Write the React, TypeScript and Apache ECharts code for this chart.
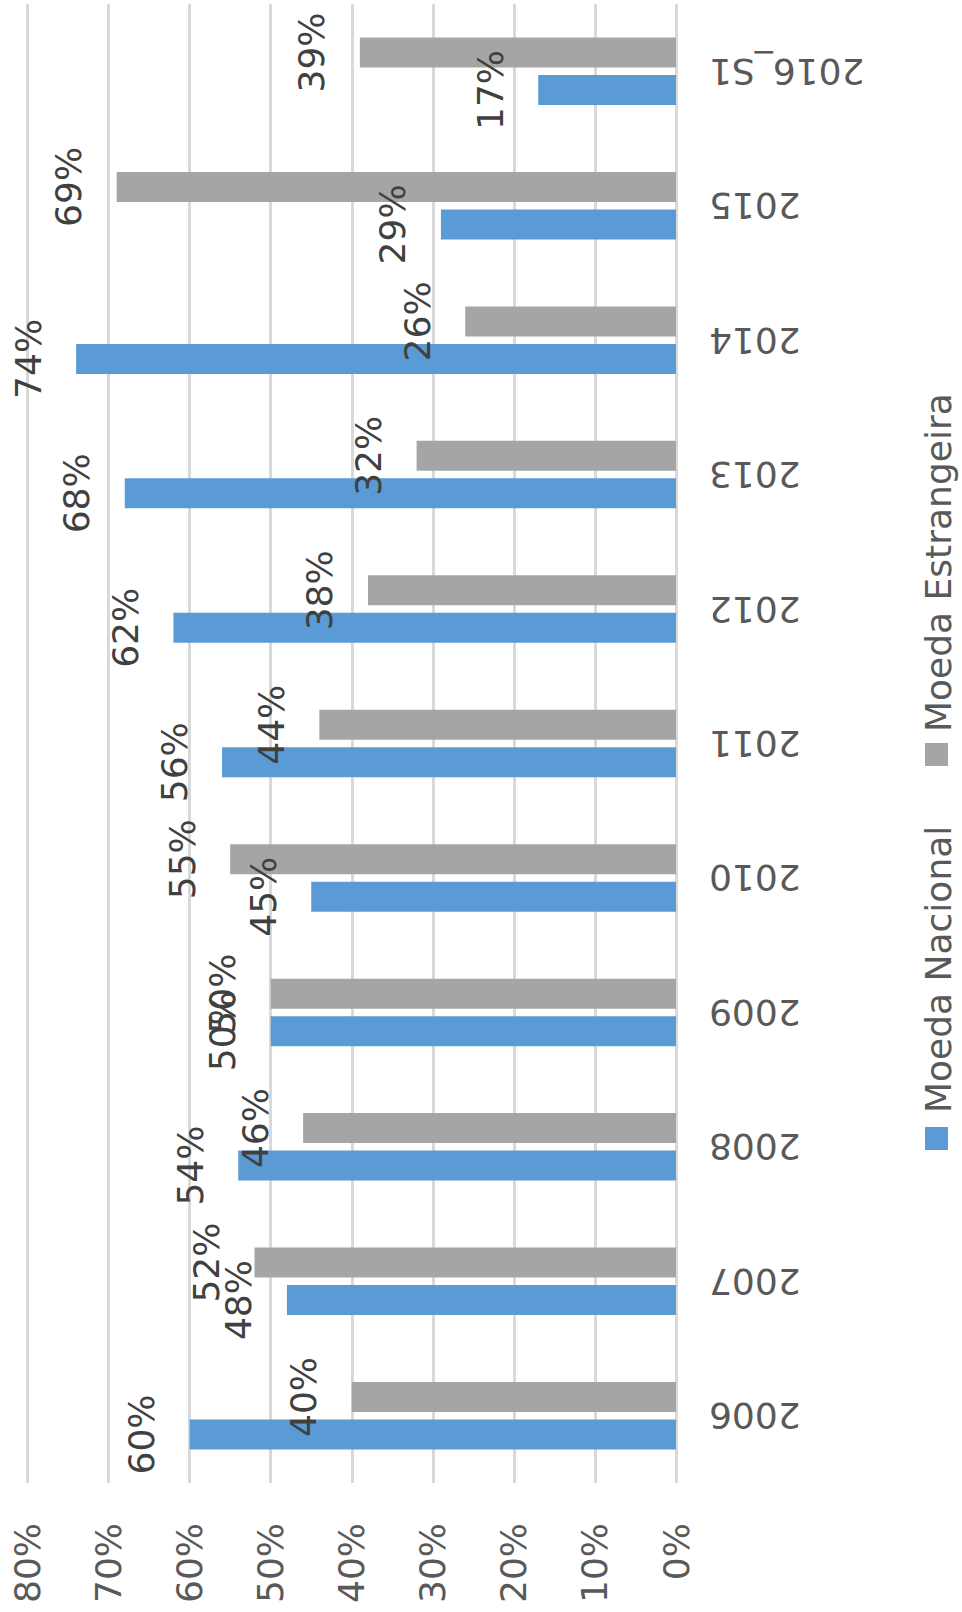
import React, { useEffect, useRef } from "react";
import * as echarts from "echarts";

// Share of each year's total by currency (percent)
const categories = ["2006", "2007", "2008", "2009", "2010", "2011", "2012", "2013", "2014", "2015", "2016_S1"];
const nacional = [60, 48, 54, 50, 45, 56, 62, 68, 74, 29, 17];
const estrangeira = [40, 52, 46, 50, 55, 44, 38, 32, 26, 69, 39];
const seriesNames = ["Moeda Nacional", "Moeda Estrangeira"];
const seriesColors = ["#5B9BD5", "#A5A5A5"];

const FONT = "DejaVu Sans";

export default function App() {
  const ref = useRef<HTMLDivElement>(null);

  useEffect(() => {
    if (!ref.current) return;
    const chart = echarts.init(ref.current, undefined, { renderer: "svg" });

    const barLabel = {
      show: true,
      position: "left",
      distance: 48,
      rotate: 90,
      align: "center",
      verticalAlign: "middle",
      formatter: "{c}%",
      fontFamily: FONT,
      fontSize: 36,
      color: "#404040",
    };

    const legendItem = (i: number, squareY: number, textY: number) => [
      {
        type: "rect",
        shape: { x: 925, y: squareY, width: 23, height: 23 },
        style: { fill: seriesColors[i] },
      },
      {
        type: "text",
        x: 938,
        y: textY,
        rotation: Math.PI / 2,
        style: {
          text: seriesNames[i],
          fontFamily: FONT,
          fontSize: 36,
          fill: "#595959",
          textAlign: "left",
          textVerticalAlign: "middle",
        },
      },
    ];

    chart.setOption({
      animation: false,
      backgroundColor: "#ffffff",
      grid: { left: 27.5, right: 286, top: 4, bottom: 129, containLabel: false },
      xAxis: {
        type: "value",
        min: 0,
        max: 80,
        interval: 10,
        inverse: true,
        position: "bottom",
        axisLine: { show: false },
        axisTick: { show: false },
        splitLine: { show: true, lineStyle: { color: "#D9D9D9", width: 3 } },
        axisLabel: {
          rotate: 90,
          margin: 40,
          formatter: "{value}%",
          fontFamily: FONT,
          fontSize: 36,
          color: "#595959",
        },
      },
      yAxis: {
        type: "category",
        data: categories,
        position: "right",
        axisLine: { show: false },
        axisTick: { show: false },
        axisLabel: {
          rotate: 180,
          interval: 0,
          margin: 33,
          fontFamily: FONT,
          fontSize: 36,
          color: "#595959",
        },
      },
      // the foreign-currency bar sits above the national one in each year
      series: [
        {
          name: seriesNames[1],
          type: "bar",
          data: estrangeira,
          barWidth: 30,
          barGap: "25%",
          itemStyle: { color: seriesColors[1] },
          label: barLabel,
        },
        {
          name: seriesNames[0],
          type: "bar",
          data: nacional,
          barWidth: 30,
          barGap: "25%",
          itemStyle: { color: seriesColors[0] },
          label: barLabel,
        },
      ],
      graphic: [...legendItem(0, 1127, 1113), ...legendItem(1, 743, 732)],
    });

    return () => chart.dispose();
  }, []);

  return (
    <div
      ref={ref}
      style={{ position: "absolute", left: 0, top: 0, width: 962, height: 1612 }}
    />
  );
}
